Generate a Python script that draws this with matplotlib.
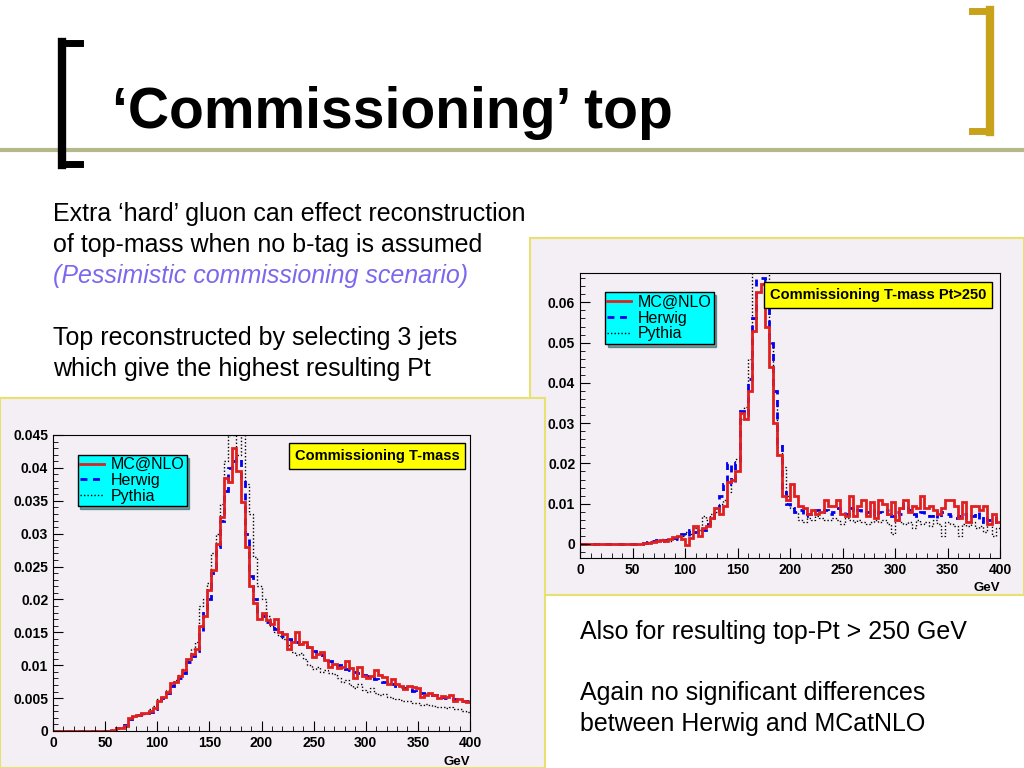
import numpy as np
import matplotlib
matplotlib.use("Agg")
import matplotlib.pyplot as plt
from matplotlib.patches import Rectangle
from matplotlib.lines import Line2D

edges = np.arange(0, 401, 4)

left_mcnlo = [0]*14 + [
    0.0002, 0.0005, 0.0005, 0.0008, 0.0020, 0.0023, 0.0025, 0.0027, 0.0028, 0.0030,
    0.0035, 0.0045, 0.0052, 0.0060, 0.0073, 0.0075, 0.0083, 0.0092, 0.0110, 0.0117,
    0.0125, 0.0160, 0.0175, 0.0215, 0.0245, 0.0285, 0.0325, 0.0385, 0.0378, 0.0430,
    0.0395, 0.0348, 0.0280, 0.0220, 0.0195, 0.0170, 0.0180, 0.0168, 0.0162, 0.0170,
    0.0150, 0.0148, 0.0125, 0.0135, 0.0150, 0.0132, 0.0135, 0.0128, 0.0112, 0.0117,
    0.0120, 0.0108, 0.0098, 0.0102, 0.0096, 0.0098, 0.0107, 0.0096, 0.0080, 0.0098,
    0.0084, 0.0081, 0.0083, 0.0092, 0.0085, 0.0082, 0.0072, 0.0079, 0.0071, 0.0068,
    0.0064, 0.0068, 0.0067, 0.0065, 0.0052, 0.0055, 0.0058, 0.0055, 0.0050, 0.0053,
    0.0051, 0.0055, 0.0046, 0.0048, 0.0046, 0.0044]
left_herwig = [0]*14 + [
    0.0002, 0.0004, 0.0006, 0.0009, 0.0018, 0.0022, 0.0024, 0.0026, 0.0027, 0.0029,
    0.0034, 0.0043, 0.0050, 0.0058, 0.0068, 0.0074, 0.0080, 0.0088, 0.0105, 0.0114,
    0.0122, 0.0150, 0.0185, 0.0200, 0.0240, 0.0280, 0.0320, 0.0365, 0.0400, 0.0410,
    0.0415, 0.0385, 0.0300, 0.0235, 0.0200, 0.0180, 0.0175, 0.0165, 0.0160, 0.0155,
    0.0150, 0.0145, 0.0140, 0.0138, 0.0135, 0.0133, 0.0130, 0.0127, 0.0122, 0.0118,
    0.0115, 0.0110, 0.0107, 0.0104, 0.0100, 0.0098, 0.0095, 0.0093, 0.0090, 0.0088,
    0.0085, 0.0083, 0.0081, 0.0079, 0.0077, 0.0075, 0.0073, 0.0071, 0.0069, 0.0067,
    0.0065, 0.0063, 0.0061, 0.0060, 0.0058, 0.0057, 0.0055, 0.0054, 0.0052, 0.0051,
    0.0050, 0.0049, 0.0048, 0.0047, 0.0046, 0.0045]
left_pythia = [0]*14 + [
    0.0002, 0.0005, 0.0006, 0.0009, 0.0018, 0.0021, 0.0024, 0.0026, 0.0028, 0.0033,
    0.0038, 0.0048, 0.0052, 0.0062, 0.0070, 0.0078, 0.0085, 0.0095, 0.0108, 0.0125,
    0.0135, 0.0190, 0.0200, 0.0225, 0.0270, 0.0300, 0.0345, 0.0410, 0.0450, 0.0450,
    0.0420, 0.0460, 0.0375, 0.0330, 0.0265, 0.0220, 0.0200, 0.0175, 0.0160, 0.0150,
    0.0145, 0.0140, 0.0130, 0.0120, 0.0115, 0.0118, 0.0110, 0.0100, 0.0095, 0.0098,
    0.0090, 0.0092, 0.0088, 0.0086, 0.0080, 0.0075, 0.0078, 0.0070, 0.0065, 0.0072,
    0.0063, 0.0060, 0.0066, 0.0058, 0.0055, 0.0057, 0.0052, 0.0050, 0.0049, 0.0047,
    0.0046, 0.0045, 0.0043, 0.0042, 0.0040, 0.0041, 0.0039, 0.0038, 0.0037, 0.0036,
    0.0035, 0.0036, 0.0034, 0.0033, 0.0031, 0.0029]

right_mcnlo = [0]*15 + [
    0.0002, 0.0003, 0.0005, 0.0008, 0.0010, 0.0008, 0.0012, 0.0018, 0.0020, 0.0012,
    -0.0003, 0.0015, 0.0045, 0.0020, 0.0040, 0.0045, 0.0065, 0.0090, 0.0075, 0.0095,
    0.0155, 0.0160, 0.0180, 0.0325, 0.0310, 0.0380, 0.0530, 0.0625, 0.0645, 0.0540,
    0.0440, 0.0300, 0.0220, 0.0120, 0.0110, 0.0150, 0.0120, 0.0095, 0.0090, 0.0075,
    0.0085, 0.0075, 0.0080, 0.0110, 0.0095, 0.0095, 0.0110, 0.0075, 0.0070, 0.0120,
    0.0070, 0.0095, 0.0110, 0.0070, 0.0105, 0.0065, 0.0110, 0.0100, 0.0075, 0.0105,
    0.0060, 0.0090, 0.0110, 0.0080, 0.0095, 0.0090, 0.0120, 0.0090, 0.0095, 0.0085,
    0.0075, 0.0090, 0.0110, 0.0110, 0.0095, 0.0065, 0.0105, 0.0055, 0.0095, 0.0095,
    0.0085, 0.0095, 0.0050, 0.0075, 0.0055]
right_herwig = [0]*15 + [
    0.0002, 0.0004, 0.0006, 0.0009, 0.0008, 0.0010, 0.0010, 0.0015, 0.0012, 0.0025,
    0.0020, 0.0035, 0.0030, 0.0040, 0.0035, 0.0050, 0.0060, 0.0080, 0.0120, 0.0150,
    0.0200, 0.0150, 0.0200, 0.0330, 0.0320, 0.0410, 0.0560, 0.0675, 0.0660, 0.0655,
    0.0500, 0.0380, 0.0250, 0.0130, 0.0100, 0.0090, 0.0080, 0.0085, 0.0070, 0.0075,
    0.0080, 0.0085, 0.0080, 0.0085, 0.0075, 0.0080, 0.0090, 0.0085, 0.0075, 0.0090,
    0.0080, 0.0085, 0.0075, 0.0080, 0.0085, 0.0070, 0.0080, 0.0075, 0.0085, 0.0070,
    0.0080, 0.0075, 0.0100, 0.0085, 0.0075, 0.0070, 0.0080, 0.0075, 0.0070, 0.0080,
    0.0065, 0.0080, 0.0075, 0.0070, 0.0065, 0.0070, 0.0075, 0.0065, 0.0070, 0.0080,
    0.0055, 0.0070, 0.0060, 0.0065, 0.0050]
right_pythia = [0]*15 + [
    0.0003, 0.0004, 0.0007, 0.0010, 0.0012, 0.0010, 0.0008, 0.0015, 0.0020, 0.0020,
    0.0030, 0.0025, 0.0040, 0.0035, 0.0070, 0.0060, 0.0075, 0.0080, 0.0100, 0.0110,
    0.0130, 0.0160, 0.0210, 0.0310, 0.0340, 0.0460, 0.0680, 0.0680, 0.0690, 0.0700,
    0.0500, 0.0350, 0.0240, 0.0190, 0.0120, 0.0090, 0.0080, 0.0060, 0.0055, 0.0065,
    0.0060, 0.0070, 0.0065, 0.0060, 0.0060, 0.0065, 0.0060, 0.0050, 0.0065, 0.0060,
    0.0055, 0.0060, 0.0055, 0.0050, 0.0055, 0.0060, 0.0055, 0.0060, 0.0050, 0.0025,
    0.0060, 0.0055, 0.0050, 0.0055, 0.0040, 0.0060, 0.0050, 0.0055, 0.0045, 0.0060,
    0.0050, 0.0020, 0.0055, 0.0050, 0.0045, 0.0020, 0.0050, 0.0045, 0.0055, 0.0040,
    0.0045, 0.0030, 0.0050, 0.0020, 0.0040]

left_yticks = [0, 0.005, 0.01, 0.015, 0.02, 0.025, 0.03, 0.035, 0.04, 0.045]
left_ylabels = ["0", "0.005", "0.01", "0.015", "0.02", "0.025", "0.03", "0.035", "0.04", "0.045"]
right_yticks = [0, 0.01, 0.02, 0.03, 0.04, 0.05, 0.06]
right_ylabels = ["0", "0.01", "0.02", "0.03", "0.04", "0.05", "0.06"]
xticks = [0, 50, 100, 150, 200, 250, 300, 350, 400]

W, H = 1024, 768
fig = plt.figure(figsize=(W/100, H/100), dpi=100)
fig.patch.set_facecolor("white")

def px(x, y, w, h):
    return [x/W, 1 - (y+h)/H, w/W, h/H]

gold = "#c8a21a"
fig.add_artist(Line2D([0, 1], [1-150/H, 1-150/H], color="#b5b98a", lw=3, transform=fig.transFigure))
fig.add_artist(Line2D([62/W, 62/W], [1-42/H, 1-165/H], color="black", lw=6, transform=fig.transFigure))
fig.add_artist(Line2D([62/W, 80/W], [1-43/H, 1-43/H], color="black", lw=5, transform=fig.transFigure))
fig.add_artist(Line2D([62/W, 80/W], [1-164/H, 1-164/H], color="black", lw=5, transform=fig.transFigure))
fig.add_artist(Line2D([990/W, 990/W], [1-10/H, 1-132/H], color=gold, lw=6, transform=fig.transFigure))
fig.add_artist(Line2D([972/W, 990/W], [1-11/H, 1-11/H], color=gold, lw=5, transform=fig.transFigure))
fig.add_artist(Line2D([972/W, 990/W], [1-131/H, 1-131/H], color=gold, lw=5, transform=fig.transFigure))
fig.text(112/W, 1-113/H, "‘Commissioning’ top", fontsize=41, fontweight="bold", va="center", family="Liberation Sans")

tk = dict(fontsize=18, family="Liberation Sans", va="center")
fig.text(53/W, 1-214/H, "Extra ‘hard’ gluon can effect reconstruction", **tk)
fig.text(53/W, 1-245/H, "of top-mass when no b-tag is assumed", **tk)
fig.text(53/W, 1-276/H, "(Pessimistic commissioning scenario)", style="italic", color="#7b68ee", **tk)
fig.text(53/W, 1-338/H, "Top reconstructed by selecting 3 jets", **tk)
fig.text(53/W, 1-369/H, "which give the highest resulting Pt", **tk)
fig.text(580/W, 1-632/H, "Also for resulting top-Pt > 250 GeV", **tk)
fig.text(580/W, 1-693/H, "Again no significant differences", **tk)
fig.text(580/W, 1-724/H, "between Herwig and MCatNLO", **tk)

panel_bg = "#f4eff4"
fig.add_artist(Rectangle((530/W, 1-595/H), 494/W, 357/H, transform=fig.transFigure,
                         facecolor=panel_bg, edgecolor="#e8e070", lw=1.5, zorder=-10))
fig.add_artist(Rectangle((0, 0), 545/W, 370/H, transform=fig.transFigure,
                         facecolor=panel_bg, edgecolor="#e8e070", lw=1.5, zorder=-9))

def draw(ax, mc, hw, py, ylim, yticks, ylabels, label, lab_xy):
    ax.set_facecolor(panel_bg)
    ax.stairs(py, edges, color="black", lw=1, ls=(0, (1, 1.5)), baseline=None)
    ax.stairs(hw, edges, color="#0000ee", lw=2, ls=(0, (2.5, 2)), baseline=None)
    ax.stairs(mc, edges, color="#e02020", lw=2, baseline=None)
    ax.set_xlim(0, 400)
    ax.set_ylim(*ylim)
    ax.set_xticks(xticks)
    ax.set_yticks(yticks)
    ax.set_yticklabels(ylabels)
    ax.xaxis.set_minor_locator(matplotlib.ticker.MultipleLocator(10))
    ax.yaxis.set_minor_locator(matplotlib.ticker.AutoMinorLocator(5))
    ax.tick_params(axis="both", direction="in", labelsize=10, length=7)
    ax.tick_params(which="minor", direction="in", length=3.5)
    for lab in ax.get_xticklabels() + ax.get_yticklabels():
        lab.set_fontweight("bold")
        lab.set_family("Liberation Sans")
    ax.text(1.0, -0.085, "GeV", transform=ax.transAxes, ha="right", va="top",
            fontsize=9.5, fontweight="bold", family="Liberation Sans")
    handles = [Line2D([], [], color="#e02020", lw=2),
               Line2D([], [], color="#0000ee", lw=2, ls=(0, (2.5, 2))),
               Line2D([], [], color="black", lw=1, ls=(0, (1, 1.5)))]
    leg = ax.legend(handles, ["MC@NLO", "Herwig", "Pythia"], loc="upper left",
                    bbox_to_anchor=(0.04, 0.96), fancybox=False, shadow=True,
                    facecolor="cyan", edgecolor="black", framealpha=1,
                    handlelength=1.5, borderpad=0.15, labelspacing=0.05,
                    handletextpad=0.4, prop={"family": "Liberation Sans", "size": 11.5})
    leg.get_frame().set_linewidth(1)
    ax.text(lab_xy[0], lab_xy[1], label, transform=ax.transAxes, ha="right", va="center",
            fontsize=10.5, fontweight="bold", family="Liberation Sans",
            bbox=dict(boxstyle="square,pad=0.4", facecolor="yellow", edgecolor="black"))

axL = fig.add_axes(px(53, 435, 417, 296))
draw(axL, left_mcnlo, left_herwig, left_pythia, (0, 0.045), left_yticks, left_ylabels,
     "Commissioning T-mass", (0.975, 0.93))
axR = fig.add_axes(px(580, 273, 420, 285))
draw(axR, right_mcnlo, right_herwig, right_pythia, (-0.0035, 0.0673), right_yticks, right_ylabels,
     "Commissioning T-mass Pt>250", (0.968, 0.923))

fig.savefig("out.png", dpi=100)
